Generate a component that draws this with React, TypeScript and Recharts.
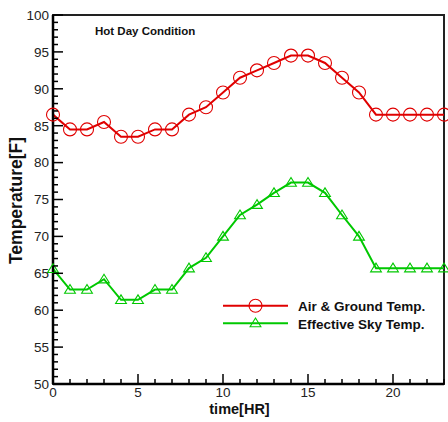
import React from 'react';
import { LineChart, Line, XAxis, YAxis, ReferenceArea } from 'recharts';

const hours = [0,1,2,3,4,5,6,7,8,9,10,11,12,13,14,15,16,17,18,19,20,21,22,23];
const airGroundTemp = [86.5,84.5,84.5,85.5,83.5,83.5,84.5,84.5,86.5,87.5,89.5,91.5,92.5,93.5,94.5,94.5,93.5,91.5,89.5,86.5,86.5,86.5,86.5,86.5];
const skyTemp = [65.6,62.8,62.8,64.2,61.4,61.4,62.8,62.8,65.7,67.1,70.0,72.9,74.3,75.9,77.3,77.3,75.9,72.9,70.0,65.7,65.7,65.7,65.7,65.7];
const xTicks = hours;
const yTicks = Array.from({ length: 51 }, (_, i) => 50 + i);
const seriesNames = ['Air & Ground Temp.', 'Effective Sky Temp.'];

const RED = '#e00000';
const GREEN = '#00c800';
const FONT = '"Liberation Sans", Arial, Helvetica, sans-serif';

const data = hours.map((h, i) => ({ hour: h, air: airGroundTemp[i], sky: skyTemp[i] }));

const CircleDot = (props: any) => {
  const { cx, cy, index } = props;
  if (cx == null || cy == null) return <g key={index} />;
  return <circle key={index} cx={cx} cy={cy} r={6.5} fill="none" stroke={RED} strokeWidth={1.1} />;
};

const triPoints = (cx: number, cy: number) =>
  `${cx},${cy - 5} ${cx - 5.4},${cy + 3.7} ${cx + 5.4},${cy + 3.7}`;

const TriDot = (props: any) => {
  const { cx, cy, index } = props;
  if (cx == null || cy == null) return <g key={index} />;
  return <polygon key={index} points={triPoints(cx, cy)} fill="none" stroke={GREEN} strokeWidth={1.1} />;
};

const XTick = (props: any) => {
  const { x, y, payload } = props;
  const v = payload.value;
  const major = v % 5 === 0;
  return (
    <g>
      <line x1={x} x2={x} y1={y} y2={y - (major ? 10 : 5)} stroke="#000" strokeWidth={1.5} />
      {major && (
        <text x={x} y={y + 13} textAnchor="middle" fontSize={13.5} fontFamily={FONT} fill="#222">
          {v}
        </text>
      )}
    </g>
  );
};

const YTick = (props: any) => {
  const { x, y, payload } = props;
  const v = payload.value;
  const major = v % 5 === 0;
  return (
    <g>
      <line x1={x} x2={x + (major ? 10 : 5)} y1={y} y2={y} stroke="#000" strokeWidth={1.5} />
      {major && (
        <text x={x - 4} y={y} dy="0.36em" textAnchor="end" fontSize={13.5} fontFamily={FONT} fill="#222">
          {v}
        </text>
      )}
    </g>
  );
};

export default function App() {
  return (
    <div style={{ position: 'absolute', left: 0, top: 0, width: 448, height: 422, background: '#fff' }}>
      <LineChart width={448} height={422} data={data} margin={{ top: 15, right: 4, bottom: 0, left: 0 }}>
        <ReferenceArea x1={0} x2={23} y1={50} y2={100} fill="none" stroke="#222" strokeWidth={2} ifOverflow="visible" />
        <XAxis
          dataKey="hour"
          type="number"
          domain={[0, 23]}
          ticks={xTicks}
          interval={0}
          tickSize={0}
          tickMargin={0}
          tickLine={false}
          height={38}
          axisLine={{ stroke: '#000', strokeWidth: 2.5 }}
          tick={<XTick />}
        />
        <YAxis
          type="number"
          domain={[50, 100]}
          ticks={yTicks}
          interval={0}
          tickSize={0}
          tickMargin={0}
          tickLine={false}
          width={53}
          axisLine={{ stroke: '#000', strokeWidth: 2.5 }}
          tick={<YTick />}
        />
        <Line
          type="linear"
          dataKey="air"
          stroke={RED}
          strokeWidth={2}
          dot={<CircleDot />}
          activeDot={false}
          isAnimationActive={false}
        />
        <Line
          type="linear"
          dataKey="sky"
          stroke={GREEN}
          strokeWidth={2}
          dot={<TriDot />}
          activeDot={false}
          isAnimationActive={false}
        />
      </LineChart>
      <svg
        width={448}
        height={422}
        style={{ position: 'absolute', left: 0, top: 0, pointerEvents: 'none' }}
      >
        <text x={95} y={35} fontSize={11.5} fontWeight="bold" fontFamily={FONT} fill="#111">
          Hot Day Condition
        </text>
        <text
          x={21.5}
          y={200.5}
          transform="rotate(-90, 21.5, 200.5)"
          textAnchor="middle"
          fontSize={17.5}
          fontWeight="bold"
          fontFamily={FONT}
          fill="#111"
        >
          Temperature[F]
        </text>
        <text x={239.5} y={414} textAnchor="middle" fontSize={14.5} fontWeight="bold" fontFamily={FONT} fill="#111">
          time[HR]
        </text>
        <g>
          <line x1={223} x2={288} y1={305.7} y2={305.7} stroke={RED} strokeWidth={2} />
          <circle cx={255.5} cy={305.7} r={6.5} fill="none" stroke={RED} strokeWidth={1.1} />
          <text x={298} y={310.7} fontSize={13.5} fontWeight="bold" fontFamily={FONT} fill="#111">
            {seriesNames[0]}
          </text>
          <line x1={223} x2={288} y1={323.3} y2={323.3} stroke={GREEN} strokeWidth={2} />
          <polygon points={triPoints(255.5, 323)} fill="none" stroke={GREEN} strokeWidth={1.1} />
          <text x={298} y={328.5} fontSize={13.5} fontWeight="bold" fontFamily={FONT} fill="#111">
            {seriesNames[1]}
          </text>
        </g>
      </svg>
    </div>
  );
}
